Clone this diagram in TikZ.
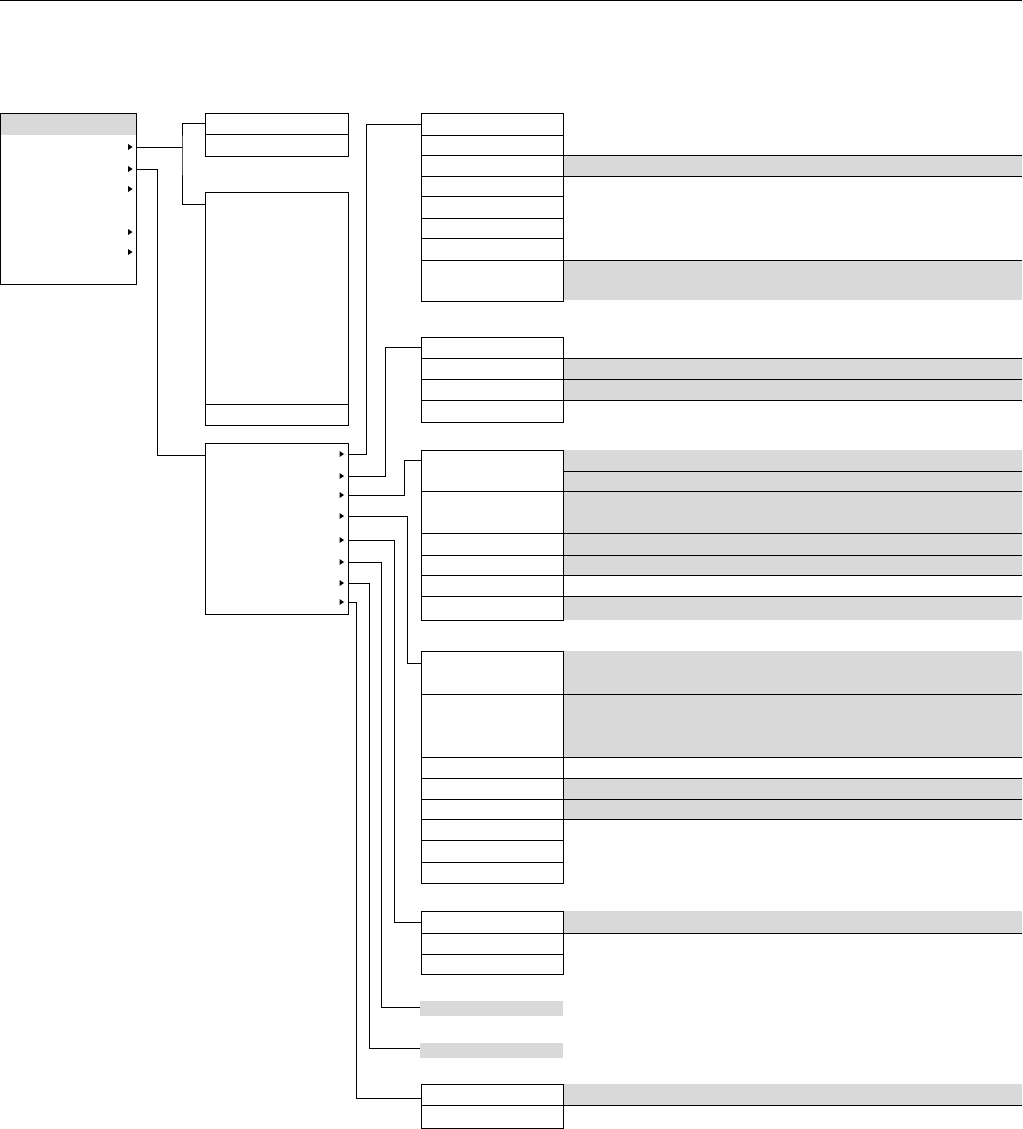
\documentclass[tikz,border=0pt]{standalone}
\definecolor{shade}{HTML}{D9D9D9}
\begin{document}
\begin{tikzpicture}[x=1pt,y=-1pt,
  cell/.style={draw, line width=0.8pt, inner sep=0pt, outer sep=0pt, minimum width=142pt, anchor=north west},
  midcell/.style={draw, line width=0.8pt, inner sep=0pt, outer sep=0pt, minimum width=143pt, anchor=north west},
  strip/.style={fill=shade, inner sep=0pt, outer sep=0pt, minimum width=459pt, anchor=north west},
  lonestrip/.style={fill=shade, inner sep=0pt, outer sep=0pt, minimum width=143pt, minimum height=15pt, anchor=north west},
  wire/.style={line width=0.8pt},
  sep/.style={line width=0.8pt},
  tipmark/.style={fill=black}
]
\useasboundingbox (0,0) rectangle (1022,1129);
\draw[wire] (0,0.8) -- (1022,0.8);

% ---------- gray strips (drawn first) ----------
\node[strip, minimum height=21pt] (s1c) at (563,155) {};
\node[strip, minimum height=40pt] (s1h) at (563,260) {};
\node[strip, minimum height=21pt] (s2b) at (563,358) {};
\node[strip, minimum height=21pt] (s2c) at (563,379) {};
\node[strip, minimum height=21pt] (s3a) at (563,450) {};
\node[strip, minimum height=20pt] (s3b) at (563,471) {};
\node[strip, minimum height=42pt] (s3c) at (563,491) {};
\node[strip, minimum height=22pt] (s3d) at (563,533) {};
\node[strip, minimum height=20pt] (s3e) at (563,555) {};
\node[strip, minimum height=24pt] (s3g) at (563,596) {};
\node[strip, minimum height=43pt] (s4a) at (563,651) {};
\node[strip, minimum height=63pt] (s4b) at (563,694) {};
\node[strip, minimum height=21pt] (s4d) at (563,778) {};
\node[strip, minimum height=20pt] (s4e) at (563,799) {};
\node[strip, minimum height=22pt] (s5a) at (563,911) {};
\node[strip, minimum height=21pt] (s8a) at (563,1084) {};
\node[lonestrip] (g6) at (420,1001) {};
\node[lonestrip] (g7) at (420,1043) {};

% ---------- separator lines in the right column ----------
\foreach \yy in {155,176,260,358,379,400,471,491,533,555,575,596,694,757,778,799,819,933,1105}
  \draw[sep] (563,\yy) -- (1022,\yy);

% ---------- left box ----------
\node[fill=shade, inner sep=0pt, outer sep=0pt, minimum width=136pt, minimum height=22pt, anchor=north west] (Lhead) at (0,113) {};
\node[draw, line width=0.8pt, inner sep=0pt, outer sep=0pt, minimum width=136pt, minimum height=171pt, anchor=north west] (L) at (0,113) {};
\foreach \yy in {147,169,189,232,252}
  \fill[tipmark] (128,\yy-3) -- (132.5,\yy) -- (128,\yy+3) -- cycle;

% ---------- middle boxes ----------
\node[midcell, minimum height=21pt] (A1) at (205,113) {};
\node[midcell, minimum height=22pt] (A2) at (205,134) {};
\node[midcell, minimum height=212pt] (B1) at (205,192) {};
\node[midcell, minimum height=21pt] (B2) at (205,404) {};
\node[midcell, minimum height=171pt] (C) at (205,443) {};
\foreach \yy in {454,476,495,516,540,562,583,602}
  \fill[tipmark] (339.5,\yy-3) -- (344,\yy) -- (339.5,\yy+3) -- cycle;

% ---------- group 1 ----------
\node[cell, minimum height=22pt] (g1a) at (421,113) {};
\node[cell, minimum height=20pt] (g1b) at (421,135) {};
\node[cell, minimum height=21pt] (g1c) at (421,155) {};
\node[cell, minimum height=20pt] (g1d) at (421,176) {};
\node[cell, minimum height=22pt] (g1e) at (421,196) {};
\node[cell, minimum height=20pt] (g1f) at (421,218) {};
\node[cell, minimum height=22pt] (g1g) at (421,238) {};
\node[cell, minimum height=41pt] (g1h) at (421,260) {};
% ---------- group 2 ----------
\node[cell, minimum height=21pt] (g2a) at (421,337) {};
\node[cell, minimum height=21pt] (g2b) at (421,358) {};
\node[cell, minimum height=21pt] (g2c) at (421,379) {};
\node[cell, minimum height=22pt] (g2d) at (421,400) {};
% ---------- group 3 ----------
\node[cell, minimum height=41pt] (g3a) at (421,450) {};
\node[cell, minimum height=42pt] (g3c) at (421,491) {};
\node[cell, minimum height=22pt] (g3d) at (421,533) {};
\node[cell, minimum height=20pt] (g3e) at (421,555) {};
\node[cell, minimum height=21pt] (g3f) at (421,575) {};
\node[cell, minimum height=24pt] (g3g) at (421,596) {};
% ---------- group 4 ----------
\node[cell, minimum height=43pt] (g4a) at (421,651) {};
\node[cell, minimum height=63pt] (g4b) at (421,694) {};
\node[cell, minimum height=21pt] (g4c) at (421,757) {};
\node[cell, minimum height=21pt] (g4d) at (421,778) {};
\node[cell, minimum height=20pt] (g4e) at (421,799) {};
\node[cell, minimum height=21pt] (g4f) at (421,819) {};
\node[cell, minimum height=22pt] (g4g) at (421,840) {};
\node[cell, minimum height=21pt] (g4h) at (421,862) {};
% ---------- group 5 ----------
\node[cell, minimum height=22pt] (g5a) at (421,911) {};
\node[cell, minimum height=21pt] (g5b) at (421,933) {};
\node[cell, minimum height=20pt] (g5c) at (421,954) {};
% ---------- group 8 ----------
\node[cell, minimum height=21pt] (g8a) at (421,1084) {};
\node[cell, minimum height=23pt] (g8b) at (421,1105) {};

% ---------- connector end points ----------
\coordinate (a1) at (136,147);
\coordinate (a2) at (136,169);
\coordinate (j1) at (182,147);
\coordinate (tA) at (205,123.5);
\coordinate (tB) at (205,204);
\coordinate (tC) at (205,455);
\coordinate (c1) at (348,454);
\coordinate (c2) at (348,476);
\coordinate (c3) at (348,495);
\coordinate (c4) at (348,516);
\coordinate (c5) at (348,540);
\coordinate (c6) at (348,562);
\coordinate (c7) at (348,583);
\coordinate (c8) at (348,602);
\coordinate (t1) at (421,124);
\coordinate (t2) at (421,347);
\coordinate (t3) at (421,460);
\coordinate (t4) at (421,663);
\coordinate (t5) at (421,922);
\coordinate (t6) at (420,1007);
\coordinate (t7) at (420,1048);
\coordinate (t8) at (421,1098);

% ---------- connectors ----------
\draw[wire] (a1) -- (j1);
\draw[wire] (tA) -| (j1) |- (tB);
\draw[wire] (a2) -- ++(21,0) |- (tC);
\draw[wire] (c1) -- ++(18,0) |- (t1);
\draw[wire] (c2) -- ++(37,0) |- (t2);
\draw[wire] (c3) -- ++(56,0) |- (t3);
\draw[wire] (c4) -- ++(59,0) |- (t4);
\draw[wire] (c5) -- ++(46,0) |- (t5);
\draw[wire] (c6) -- ++(33,0) |- (t6);
\draw[wire] (c7) -- ++(21,0) |- (t7);
\draw[wire] (c8) -- ++(8,0) |- (t8);
\end{tikzpicture}
\end{document}
